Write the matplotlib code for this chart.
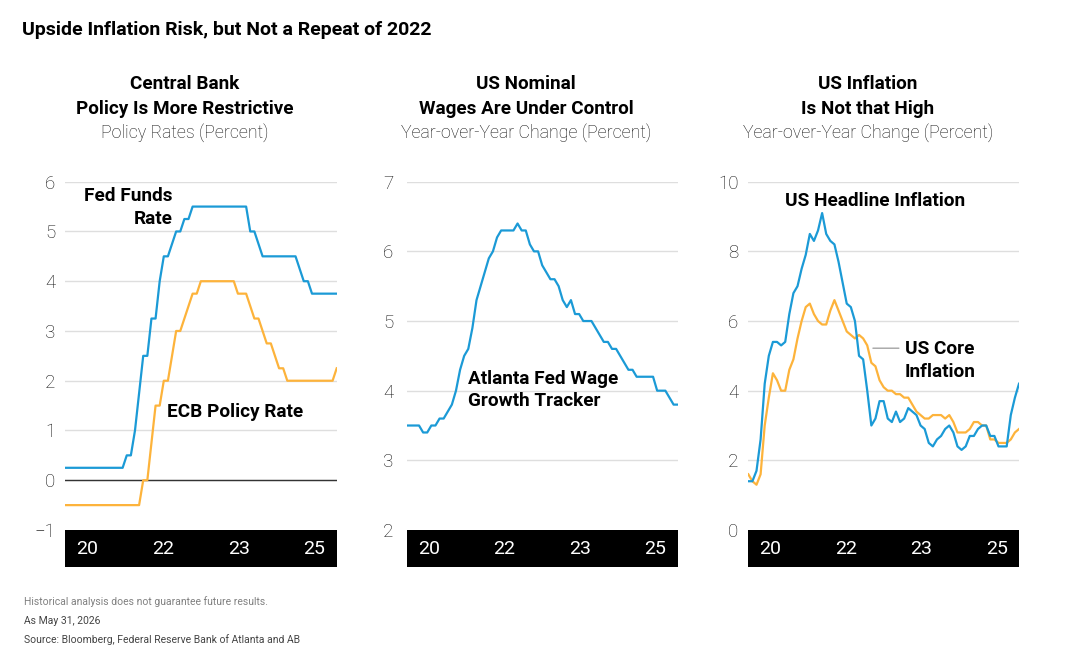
import matplotlib
matplotlib.use("Agg")
import matplotlib.pyplot as plt
import numpy as np

plt.rcParams['font.family'] = ['Roboto', 'DejaVu Sans']

# ---------------- data (monthly, Dec 2020 .. Jun 2026) ----------------
months = np.arange(67)
xtick_pos = [5.4, 23.8, 42.2, 60.6]
xtick_labels = ["20", "22", "23", "25"]

fed_funds = ([0.25] * 15 +
             [0.5, 0.5, 1.0, 1.75, 2.5, 2.5, 3.25, 3.25, 4.0, 4.5, 4.5, 4.75,
              5.0, 5.0, 5.25, 5.25] +
             [5.5] * 14 +
             [5.0, 5.0, 4.75] +
             [4.5] * 9 +
             [4.25, 4.0, 4.0] +
             [3.75] * 7)

ecb_rate = ([-0.5] * 19 +
            [0.0, 0.0, 0.75, 1.5, 1.5, 2.0, 2.0, 2.5, 3.0, 3.0, 3.25, 3.5,
             3.75, 3.75] +
            [4.0] * 9 +
            [3.75, 3.75, 3.75, 3.5, 3.25, 3.25, 3.0, 2.75, 2.75, 2.5, 2.25, 2.25] +
            [2.0] * 12 +
            [2.25])

wage_tracker = [3.5, 3.5, 3.5, 3.5, 3.4, 3.4, 3.5, 3.5, 3.6, 3.6,
                3.7, 3.8, 4.0, 4.3, 4.5, 4.6, 4.9, 5.3, 5.5, 5.7,
                5.9, 6.0, 6.2, 6.3, 6.3, 6.3, 6.3, 6.4, 6.3, 6.3,
                6.1, 6.0, 6.0, 5.8, 5.7, 5.6, 5.6, 5.5, 5.3, 5.2,
                5.3, 5.1, 5.1, 5.0, 5.0, 5.0, 4.9, 4.8, 4.7, 4.7,
                4.6, 4.6, 4.5, 4.4, 4.3, 4.3, 4.2, 4.2, 4.2, 4.2,
                4.2, 4.0, 4.0, 4.0, 3.9, 3.8, 3.8]

headline_cpi = [1.4, 1.4, 1.7, 2.6, 4.2, 5.0, 5.4, 5.4, 5.3, 5.4,
                6.2, 6.8, 7.0, 7.5, 7.9, 8.5, 8.3, 8.6, 9.1, 8.5,
                8.3, 8.2, 7.7, 7.1, 6.5, 6.4, 6.0, 5.0, 4.9, 4.0,
                3.0, 3.2, 3.7, 3.7, 3.2, 3.1, 3.4, 3.1, 3.2, 3.5,
                3.4, 3.3, 3.0, 2.9, 2.5, 2.4, 2.6, 2.7, 2.9, 3.0,
                2.8, 2.4, 2.3, 2.4, 2.7, 2.7, 2.9, 3.0, 3.0, 2.7,
                2.7, 2.4, 2.4, 2.4, 3.3, 3.8, 4.2]

core_cpi = [1.6, 1.4, 1.3, 1.6, 3.0, 3.8, 4.5, 4.3, 4.0, 4.0,
            4.6, 4.9, 5.5, 6.0, 6.4, 6.5, 6.2, 6.0, 5.9, 5.9,
            6.3, 6.6, 6.3, 6.0, 5.7, 5.6, 5.5, 5.6, 5.5, 5.3,
            4.8, 4.7, 4.3, 4.1, 4.0, 4.0, 3.9, 3.9, 3.8, 3.8,
            3.6, 3.4, 3.3, 3.2, 3.2, 3.3, 3.3, 3.3, 3.2, 3.3,
            3.1, 2.8, 2.8, 2.8, 2.9, 3.1, 3.1, 3.0, 3.0, 2.6,
            2.6, 2.5, 2.5, 2.5, 2.6, 2.8, 2.9]

BLUE = "#1b9ad6"
ORANGE = "#fdb33b"
GRID = "#dedede"

W, H = 1067, 665
fig = plt.figure(figsize=(W / 100, H / 100), dpi=100)


def fx(px):
    return px / W


def fy(py):
    return 1 - py / H


def make_panel(left_px, right_px, ylim, yticks, ypad):
    top, bottom = 181.7, 530.0
    ax = fig.add_axes([fx(left_px), fy(bottom), fx(right_px - left_px),
                       (bottom - top) / H])
    ax.set_xlim(0, 66)
    ax.set_ylim(*ylim)
    ax.set_yticks(yticks)
    ax.set_yticklabels([("\u2212" + str(abs(t))) if t < 0 else str(t) for t in yticks],
                       fontsize=13.5, fontweight='light', color='#111111')
    ax.tick_params(axis='y', length=0, pad=ypad)
    ax.set_xticks([])
    for s in ax.spines.values():
        s.set_visible(False)
    for t in yticks:
        if t != ylim[0]:
            ax.axhline(t, color=GRID, lw=1.0, zorder=0)
    # black band with year labels
    band = fig.add_axes([fx(left_px), fy(567), fx(right_px - left_px), 37 / H])
    band.set_facecolor('black')
    band.set_xlim(0, 66)
    band.set_ylim(0, 1)
    band.set_xticks([])
    band.set_yticks([])
    for s in band.spines.values():
        s.set_visible(False)
    for p, lab in zip(xtick_pos, xtick_labels):
        band.text(p, 0.5, lab, color='white', fontsize=14, ha='center', va='center')
    return ax


# Panel 1
ax1 = make_panel(65, 336.7, (-1, 6), [-1, 0, 1, 2, 3, 4, 5, 6], 7.0)
ax1.axhline(0, color='#333333', lw=1.0, zorder=1)
ax1.plot(months, fed_funds, color=BLUE, lw=1.6, zorder=3)
ax1.plot(months, ecb_rate, color=ORANGE, lw=1.6, zorder=3)

# Panel 2
ax2 = make_panel(406.7, 677.7, (2, 7), [2, 3, 4, 5, 6, 7], 9.5)
ax2.plot(months, wage_tracker, color=BLUE, lw=1.6, zorder=3)

# Panel 3
ax3 = make_panel(748.3, 1019.0, (0, 10), [0, 2, 4, 6, 8, 10], 7.0)
ax3.plot(months, headline_cpi, color=BLUE, lw=1.6, zorder=3)
ax3.plot(months, core_cpi, color=ORANGE, lw=1.6, zorder=2)
ax3.annotate('', xy=(29.7, 5.22), xytext=(37.4, 5.22),
             arrowprops=dict(arrowstyle='-', color='#9a9a9a', lw=0.9))

# ---------------- text ----------------
fig.text(fx(22), fy(30), "Upside Inflation Risk, but Not a Repeat of 2022",
         fontsize=14, fontweight='bold', ha='left', va='center', color='black')

headers = [
    (185, "Central Bank", "Policy Is More Restrictive", "Policy Rates (Percent)"),
    (526, "US Nominal", "Wages Are Under Control", "Year-over-Year Change (Percent)"),
    (868, "US Inflation", "Is Not that High", "Year-over-Year Change (Percent)"),
]
for cx, l1, l2, l3 in headers:
    fig.text(fx(cx), fy(84), l1, fontsize=13.6, fontweight='bold', ha='center', va='center')
    fig.text(fx(cx), fy(109), l2, fontsize=13.6, fontweight='bold', ha='center', va='center')
    fig.text(fx(cx), fy(133), l3, fontsize=12.8, fontweight='light', ha='center', va='center',
             color='#111111')

ann_kw = dict(fontsize=13.7, fontweight='bold', color='black')
fig.text(fx(173), fy(196), "Fed Funds", ha='right', va='center', **ann_kw)
fig.text(fx(173), fy(219), "Rate", ha='right', va='center', **ann_kw)
fig.text(fx(167), fy(412), "ECB Policy Rate", ha='left', va='center', **ann_kw)
fig.text(fx(468), fy(379), "Atlanta Fed Wage", ha='left', va='center', **ann_kw)
fig.text(fx(468), fy(401), "Growth Tracker", ha='left', va='center', **ann_kw)
fig.text(fx(785), fy(201), "US Headline Inflation", ha='left', va='center', **ann_kw)
fig.text(fx(905), fy(349), "US Core", ha='left', va='center', **ann_kw)
fig.text(fx(905), fy(372), "Inflation", ha='left', va='center', **ann_kw)

fig.text(fx(24), fy(602), "Historical analysis does not guarantee future results.",
         fontsize=7.5, color='#808080', ha='left', va='center')
fig.text(fx(24), fy(621), "As May 31, 2026", fontsize=7.5, color='#444444',
         ha='left', va='center')
fig.text(fx(24), fy(640), "Source: Bloomberg, Federal Reserve Bank of Atlanta and AB",
         fontsize=7.5, color='#444444', ha='left', va='center')

fig.savefig("out.png", dpi=100, facecolor='white')
